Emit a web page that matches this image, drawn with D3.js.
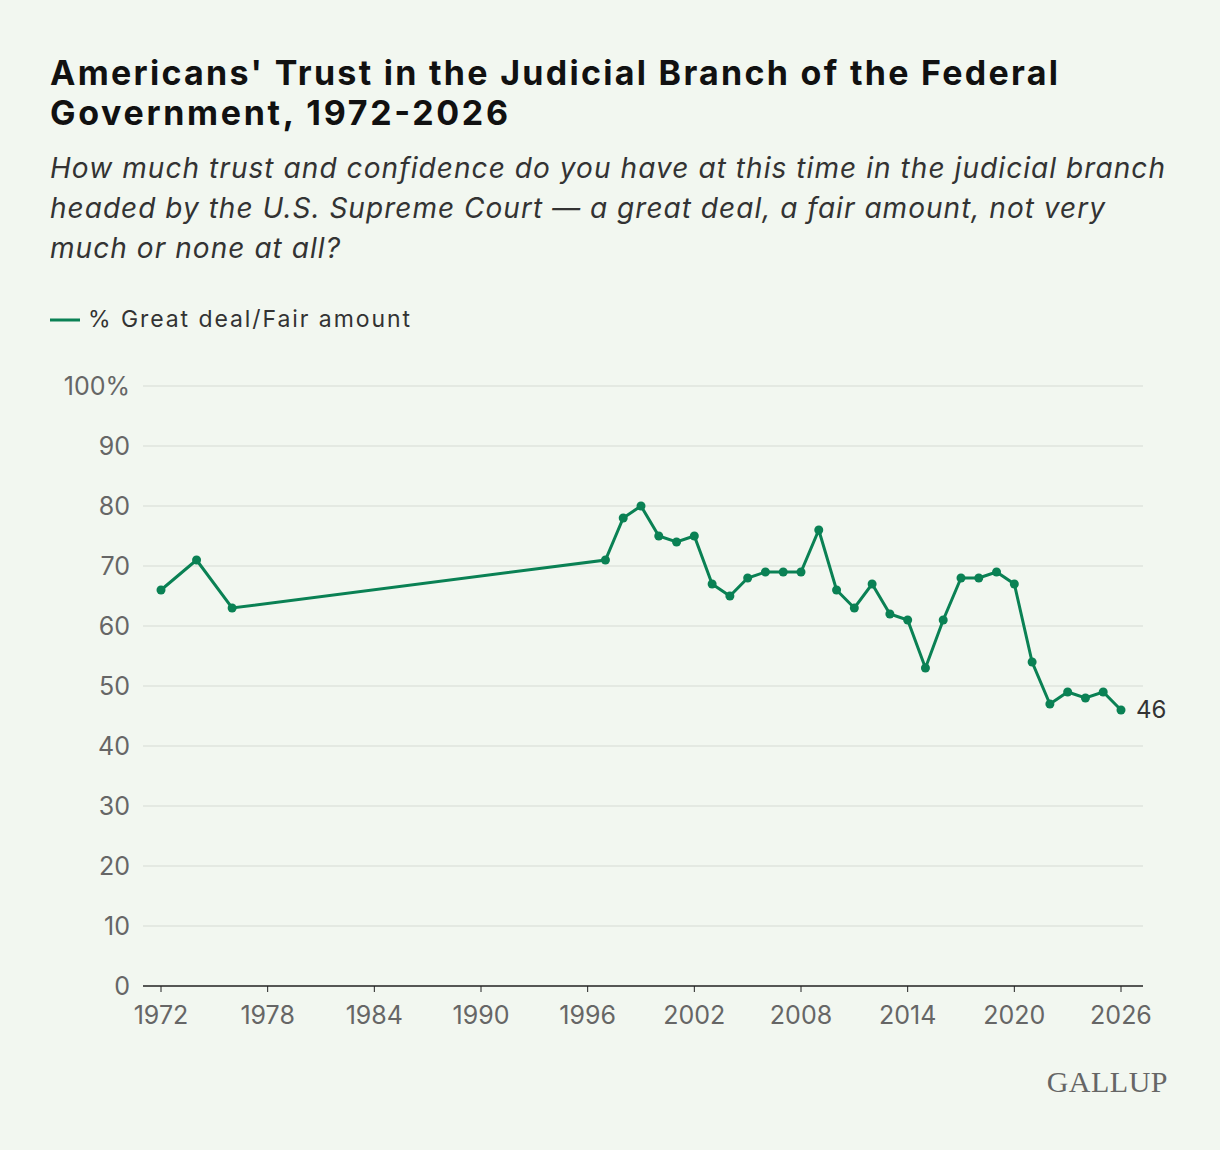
<!DOCTYPE html>
<html><head><meta charset="utf-8">
<script src="https://cdn.jsdelivr.net/npm/d3@7"></script>
<style>body{margin:0;background:#f2f7f0;}</style>
</head><body>
<svg id="c" width="1220" height="1150"></svg>
<script>
const years=[1972,1974,1976,1997,1998,1999,2000,2001,2002,2003,2004,2005,2006,2007,2008,2009,2010,2011,2012,2013,2014,2015,2016,2017,2018,2019,2020,2021,2022,2023,2024,2025,2026];
const values=[66,71,63,71,78,80,75,74,75,67,65,68,69,69,69,76,66,63,67,62,61,53,61,68,68,69,67,54,47,49,48,49,46];
const xTicks=[1972,1978,1984,1990,1996,2002,2008,2014,2020,2026];
const yTicks=[0,10,20,30,40,50,60,70,80,90,100];
const col="#0a8154";
const svg=d3.select("#c");
svg.append("rect").attr("width",1220).attr("height",1150).attr("fill","#f2f7f0");
const font="Inter, 'Noto Sans', sans-serif";
svg.append("text").attr("x",50).attr("y",85).attr("font-family",font).attr("font-weight",700).attr("font-size",34).attr("fill","#111")
 .selectAll("tspan").data(["Americans' Trust in the Judicial Branch of the Federal","Government, 1972-2026"]).join("tspan").attr("x",50).attr("dy",(d,i)=>i?40:0).attr("textLength",(d,i)=>i?458:1008).text(d=>d);
svg.append("text").attr("x",50).attr("y",178).attr("font-family",font).attr("font-style","italic").attr("font-size",28).attr("fill","#333")
 .selectAll("tspan").data(["How much trust and confidence do you have at this time in the judicial branch","headed by the U.S. Supreme Court — a great deal, a fair amount, not very","much or none at all?"]).join("tspan").attr("x",50).attr("dy",(d,i)=>i?40:0).attr("textLength",(d,i)=>[1115,1055,290][i]).text(d=>d);
svg.append("line").attr("x1",50).attr("x2",80).attr("y1",320).attr("y2",320).attr("stroke",col).attr("stroke-width",3);
svg.append("text").attr("x",88).attr("y",327).attr("font-family",font).attr("font-size",23).attr("fill","#333").attr("textLength",322).text("% Great deal/Fair amount");
const x=d3.scaleLinear().domain([1972,2026]).range([161,1121]);
const y=d3.scaleLinear().domain([0,100]).range([986,386]);
const g=svg.append("g");
g.selectAll("line.g").data(yTicks).join("line").attr("x1",143).attr("x2",1143).attr("y1",d=>y(d)).attr("y2",d=>y(d))
 .attr("stroke",d=>d?"#d5dbd3":"#222").attr("stroke-width",d=>d?1.2:1.5);
g.selectAll("text.y").data(yTicks).join("text").attr("x",130).attr("y",d=>y(d)+9).attr("text-anchor","end")
 .attr("font-family",font).attr("font-size",25).attr("fill","#666").text(d=>d===100?"100%":d);
g.selectAll("text.x").data(xTicks).join("text").attr("x",d=>x(d)).attr("y",1024).attr("text-anchor","middle")
 .attr("font-family",font).attr("font-size",25).attr("fill","#666").text(d=>d);
g.selectAll("line.t").data(xTicks).join("line").attr("x1",d=>x(d)).attr("x2",d=>x(d)).attr("y1",986).attr("y2",992).attr("stroke","#222");
const pts=years.map((yr,i)=>[yr,values[i]]);
g.append("path").datum(pts).attr("fill","none").attr("stroke",col).attr("stroke-width",3)
 .attr("d",d3.line().x(d=>x(d[0])).y(d=>y(d[1])));
g.selectAll("circle").data(pts).join("circle").attr("cx",d=>x(d[0])).attr("cy",d=>y(d[1])).attr("r",4.5).attr("fill",col);
g.append("text").attr("x",x(2026)+15).attr("y",y(46)+8).attr("font-family",font).attr("font-size",24).attr("fill","#333").text(values[values.length-1]);
svg.append("text").attr("x",1168).attr("y",1092).attr("text-anchor","end").attr("font-family","'Liberation Serif', serif").attr("font-size",30).attr("fill","#666").attr("letter-spacing",0.5).text("GALLUP");
</script>
</body></html>
